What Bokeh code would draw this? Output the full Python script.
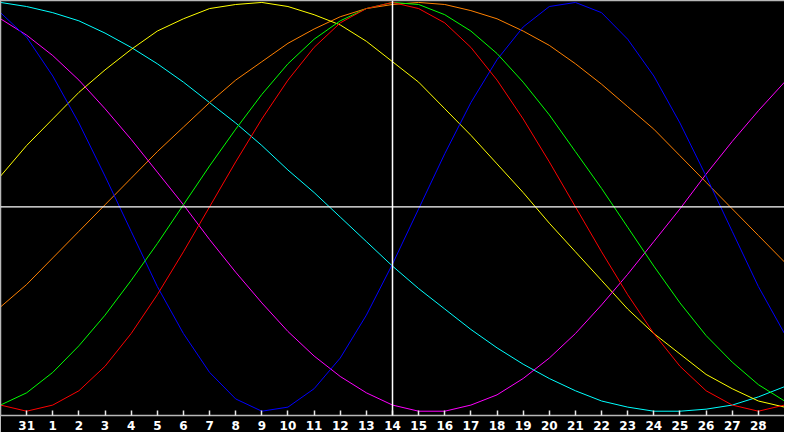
from bokeh.plotting import figure
from bokeh.models import ColumnDataSource, Span, FixedTicker, LinearAxis, Range1d
from bokeh.embed import file_html
from bokeh.resources import INLINE

# day labels along the x axis (index 0 .. 30), today is index 15
days = ["30", "31", "1", "2", "3", "4", "5", "6", "7", "8", "9", "10", "11",
        "12", "13", "14", "15", "16", "17", "18", "19", "20", "21", "22", "23",
        "24", "25", "26", "27", "28", "1"]
today = 15

# cycle values, -1 .. 1
physical = [0.95, 0.83, 0.64, 0.41, 0.15, -0.12, -0.39, -0.62, -0.81, -0.94, -1.00,
            -0.98, -0.89, -0.74, -0.53, -0.28, -0.01, 0.26, 0.51, 0.72, 0.88,
            0.98, 1.00, 0.95, 0.82, 0.64, 0.41, 0.15, -0.12, -0.39, -0.62]
emotional = [-0.97, -1.00, -0.97, -0.90, -0.78, -0.62, -0.43, -0.22, 0.00, 0.22, 0.43,
             0.62, 0.78, 0.90, 0.97, 1.00, 0.97, 0.90, 0.78, 0.62, 0.43,
             0.22, 0.00, -0.22, -0.43, -0.62, -0.78, -0.90, -0.97, -1.00, -0.97]
intellectual = [-0.97, -0.91, -0.81, -0.68, -0.53, -0.36, -0.18, 0.01, 0.20, 0.38, 0.55,
                0.70, 0.82, 0.91, 0.97, 1.00, 0.99, 0.94, 0.86, 0.75, 0.61,
                0.45, 0.27, 0.09, -0.10, -0.29, -0.47, -0.63, -0.76, -0.87, -0.95]
intuitive = [0.92, 0.84, 0.74, 0.62, 0.48, 0.33, 0.17, 0.01, -0.16, -0.32, -0.47,
             -0.61, -0.73, -0.83, -0.91, -0.97, -1.00, -1.00, -0.97, -0.92, -0.84,
             -0.74, -0.62, -0.48, -0.33, -0.17, -0.01, 0.16, 0.32, 0.47, 0.61]
aesthetic = [0.15, 0.30, 0.43, 0.56, 0.67, 0.77, 0.86, 0.92, 0.97, 0.99, 1.00,
             0.98, 0.94, 0.89, 0.81, 0.71, 0.61, 0.48, 0.35, 0.21, 0.07,
             -0.08, -0.22, -0.36, -0.50, -0.62, -0.72, -0.82, -0.89, -0.95, -0.98]
awareness = [-0.49, -0.38, -0.25, -0.12, 0.01, 0.14, 0.27, 0.39, 0.51, 0.62, 0.71,
             0.80, 0.87, 0.93, 0.97, 0.99, 1.00, 0.99, 0.96, 0.92, 0.86,
             0.79, 0.70, 0.60, 0.49, 0.38, 0.25, 0.12, -0.01, -0.14, -0.27]
spiritual = [1.00, 0.98, 0.95, 0.91, 0.85, 0.78, 0.70, 0.61, 0.51, 0.41, 0.30,
             0.18, 0.07, -0.05, -0.17, -0.29, -0.40, -0.50, -0.60, -0.69, -0.77,
             -0.84, -0.90, -0.95, -0.98, -1.00, -1.00, -0.99, -0.97, -0.93, -0.88]

source = ColumnDataSource(data=dict(
    x=list(range(len(days))),
    physical=physical, emotional=emotional, intellectual=intellectual,
    intuitive=intuitive, aesthetic=aesthetic, awareness=awareness,
    spiritual=spiritual,
))

p = figure(width=784, height=432, output_backend="svg", toolbar_location=None,
           x_range=Range1d(0, len(days) - 1), y_range=Range1d(-1.021, 1.0095),
           min_border=0, background_fill_color="black", border_fill_color="black",
           outline_line_color=None)
p.grid.visible = False

# bottom axis with the day numbers
ticks = list(range(1, len(days) - 1))
p.xaxis.ticker = FixedTicker(ticks=ticks)
p.xaxis.major_label_overrides = {i: days[i] for i in ticks}
p.xaxis.major_tick_in = 5
p.xaxis.major_tick_out = 0
p.xaxis.minor_tick_line_color = None
p.xaxis.axis_line_color = "#b8b8b8"
p.xaxis.axis_line_width = 1.5
p.xaxis.major_tick_line_color = "#e8e8e8"
p.xaxis.major_tick_line_width = 1.5
p.xaxis.major_label_text_color = "white"
p.xaxis.major_label_text_font = "DejaVu Sans"
p.xaxis.major_label_text_font_style = "bold"
p.xaxis.major_label_text_font_size = "12px"
p.xaxis.major_label_standoff = 5

# plain grey frame edges on the left and on top
def bare(axis):
    axis.ticker = FixedTicker(ticks=[])
    axis.major_label_text_font_size = "0px"
    axis.major_tick_in = 0
    axis.major_tick_out = 0
    axis.minor_tick_line_color = None
    axis.major_label_standoff = 0
    axis.axis_line_color = "#b8b8b8"
    axis.axis_line_width = 1.5

bare(p.yaxis[0])
top = LinearAxis()
bare(top)
p.add_layout(top, "above")

for name, color in [("spiritual", "#00ffff"), ("awareness", "#ff8000"),
                    ("aesthetic", "#ffff00"), ("intuitive", "#ff00ff"),
                    ("physical", "#0000ff"), ("intellectual", "#00ff00"),
                    ("emotional", "#ff0000")]:
    p.line("x", name, source=source, line_color=color, line_width=1)

p.add_layout(Span(location=0, dimension="width", line_color="white", line_width=1.2))
p.add_layout(Span(location=today, dimension="height", line_color="white", line_width=1.5))

open("out.html", "w").write(file_html(p, INLINE))
